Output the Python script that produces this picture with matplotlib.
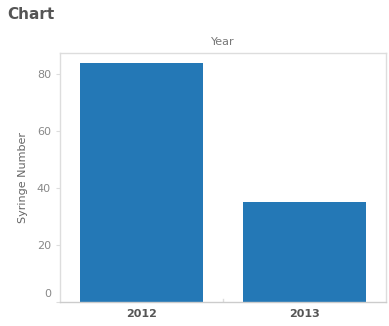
import matplotlib.pyplot as plt
from matplotlib.transforms import ScaledTranslation

years = ["2012", "2013"]
syringes = [84, 35]
yticks = [0, 20, 40, 60, 80]

BAR_COLOR = "#2478b6"
TEXT_GRAY = "#666666"
LINE_GRAY = "#dddddd"

fig = plt.figure(figsize=(3.89, 3.26), dpi=100)
ax = fig.add_axes([0.154, 0.074, 0.838, 0.763])

x = list(range(len(years)))
ax.bar(x, syringes, width=0.75, color=BAR_COLOR, zorder=2)

ax.set_xlim(-0.5, len(years) - 0.5)
ax.set_ylim(0, 87.4)
ax.set_yticks(yticks)
ax.set_xticks(x)
ax.set_xticklabels(years, fontweight="bold", fontsize=8, color="#555555")
ax.tick_params(axis="y", labelsize=8, length=3, color=LINE_GRAY)
ax.tick_params(axis="x", length=0, pad=5)
for lbl in ax.get_yticklabels():
    lbl.set_color("#888888")
# tableau nudges the bottom label up so it stays inside the pane
zero_lbl = ax.get_yticklabels()[0]
zero_lbl.set_transform(zero_lbl.get_transform()
                       + ScaledTranslation(0, 9 / 100, fig.dpi_scale_trans))

for s in ax.spines.values():
    s.set_color(LINE_GRAY)
    s.set_linewidth(1)
ax.spines["bottom"].set_color("#cccccc")
ax.axvline(0.5, ymin=0, ymax=0.012, color=LINE_GRAY, linewidth=1)

ax.set_ylabel("Syringe Number", fontsize=8, color=TEXT_GRAY, labelpad=6)
ax.set_title("Year", fontsize=8, color="#777777", pad=6)

fig.text(0.018, 0.955, "Chart", fontsize=11, fontweight="bold", color="#555555",
         ha="left", va="center")

fig.savefig("out.png", dpi=100)
